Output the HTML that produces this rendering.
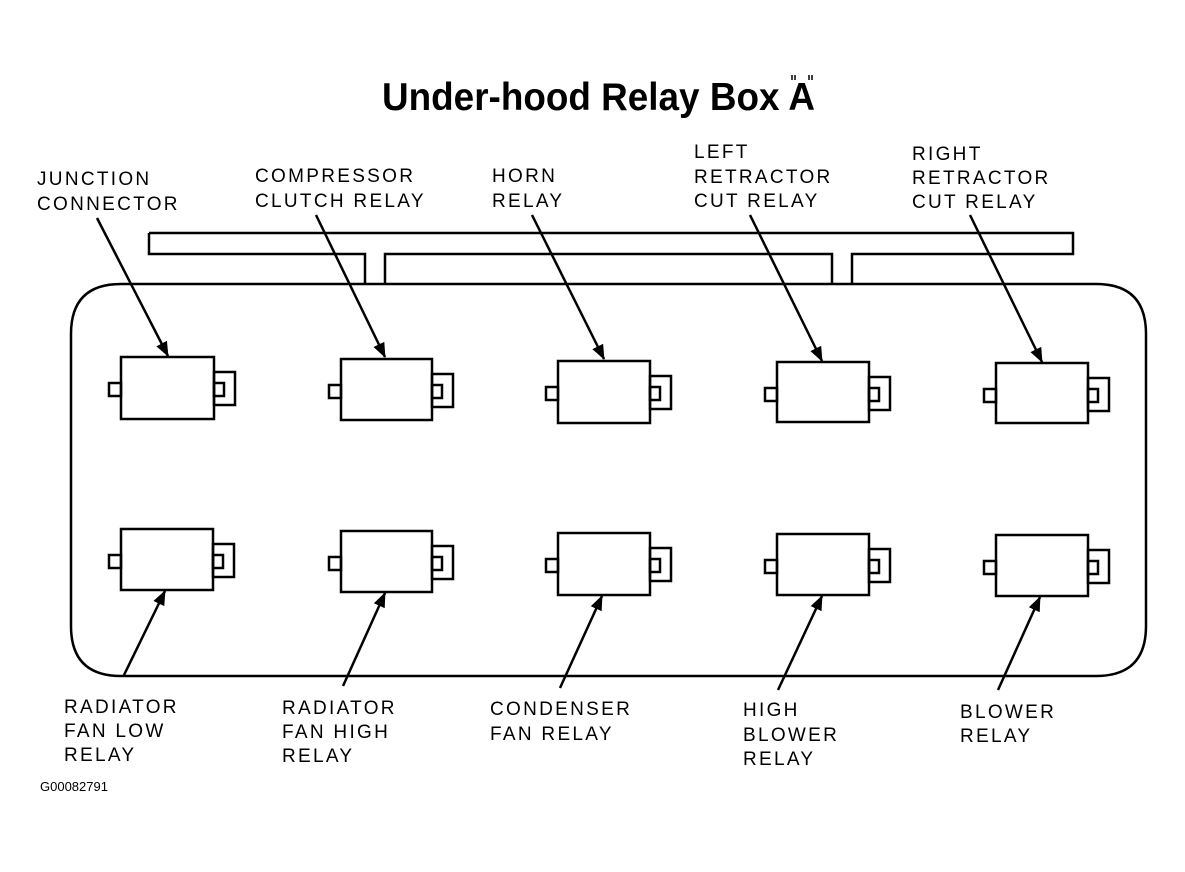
<!DOCTYPE html>
<html><head><style>
html,body{margin:0;padding:0;background:#fff;}
svg text{font-family:"Liberation Sans",sans-serif;fill:#000;}
.l{font-size:19px;letter-spacing:2.3px;}
</style></head><body>
<svg width="1185" height="867" viewBox="0 0 1185 867" xmlns="http://www.w3.org/2000/svg">
<defs><marker id="a" markerWidth="16" markerHeight="16" refX="14" refY="6" orient="auto" markerUnits="userSpaceOnUse"><path d="M0,0 L15,6 L0,12 Z" fill="#000"/></marker></defs>
<text x="382" y="110" font-size="39" font-weight="bold" textLength="433" lengthAdjust="spacingAndGlyphs">Under-hood Relay Box A</text>
<g stroke="#000" stroke-width="1.5"><line x1="792" y1="75" x2="792" y2="80"/><line x1="795" y1="75" x2="795" y2="80"/><line x1="809" y1="75" x2="809" y2="80"/><line x1="812" y1="75" x2="812" y2="80"/></g>
<g fill="none" stroke="#000" stroke-width="2.5">
<path d="M149,233 H1073 V254 H852 V284 M832,284 V254 H385 V284 M365,284 V254 H149 V233"/>
<path d="M121,284 H1096 Q1146,284 1146,334 V626 Q1146,676 1096,676 H121 Q71,676 71,626 V334 Q71,284 121,284 Z"/>
</g>
<g fill="none" stroke="#000" stroke-width="2.5">
<g transform="translate(121,357)"><rect x="0" y="0" width="93" height="62"/><rect x="-12" y="26" width="12" height="13"/><rect x="93" y="15" width="21" height="33"/><rect x="93" y="26" width="10" height="13"/></g>
<g transform="translate(341,359)"><rect x="0" y="0" width="91" height="61"/><rect x="-12" y="26" width="12" height="13"/><rect x="91" y="15" width="21" height="33"/><rect x="91" y="26" width="10" height="13"/></g>
<g transform="translate(558,361)"><rect x="0" y="0" width="92" height="62"/><rect x="-12" y="26" width="12" height="13"/><rect x="92" y="15" width="21" height="33"/><rect x="92" y="26" width="10" height="13"/></g>
<g transform="translate(777,362)"><rect x="0" y="0" width="92" height="60"/><rect x="-12" y="26" width="12" height="13"/><rect x="92" y="15" width="21" height="33"/><rect x="92" y="26" width="10" height="13"/></g>
<g transform="translate(996,363)"><rect x="0" y="0" width="92" height="60"/><rect x="-12" y="26" width="12" height="13"/><rect x="92" y="15" width="21" height="33"/><rect x="92" y="26" width="10" height="13"/></g>
<g transform="translate(121,529)"><rect x="0" y="0" width="92" height="61"/><rect x="-12" y="26" width="12" height="13"/><rect x="92" y="15" width="21" height="33"/><rect x="92" y="26" width="10" height="13"/></g>
<g transform="translate(341,531)"><rect x="0" y="0" width="91" height="61"/><rect x="-12" y="26" width="12" height="13"/><rect x="91" y="15" width="21" height="33"/><rect x="91" y="26" width="10" height="13"/></g>
<g transform="translate(558,533)"><rect x="0" y="0" width="92" height="62"/><rect x="-12" y="26" width="12" height="13"/><rect x="92" y="15" width="21" height="33"/><rect x="92" y="26" width="10" height="13"/></g>
<g transform="translate(777,534)"><rect x="0" y="0" width="92" height="61"/><rect x="-12" y="26" width="12" height="13"/><rect x="92" y="15" width="21" height="33"/><rect x="92" y="26" width="10" height="13"/></g>
<g transform="translate(996,535)"><rect x="0" y="0" width="92" height="61"/><rect x="-12" y="26" width="12" height="13"/><rect x="92" y="15" width="21" height="33"/><rect x="92" y="26" width="10" height="13"/></g>
</g>
<g stroke="#000" stroke-width="2.5" marker-end="url(#a)">
<line x1="97" y1="218" x2="168" y2="356"/>
<line x1="316" y1="215" x2="385" y2="357"/>
<line x1="532" y1="215" x2="604" y2="359"/>
<line x1="750" y1="215" x2="822" y2="361"/>
<line x1="970" y1="215" x2="1042" y2="362"/>
<line x1="124" y1="675" x2="165" y2="591"/>
<line x1="343" y1="686" x2="385" y2="593"/>
<line x1="560" y1="688" x2="602" y2="596"/>
<line x1="778" y1="690" x2="822" y2="596"/>
<line x1="998" y1="690" x2="1040" y2="597"/>
</g>
<g class="l">
<text x="37" y="185">JUNCTION</text><text x="37" y="210">CONNECTOR</text>
<text x="255" y="182">COMPRESSOR</text><text x="255" y="207">CLUTCH RELAY</text>
<text x="492" y="182">HORN</text><text x="492" y="207">RELAY</text>
<text x="694" y="158">LEFT</text><text x="694" y="183">RETRACTOR</text><text x="694" y="207">CUT RELAY</text>
<text x="912" y="160">RIGHT</text><text x="912" y="184">RETRACTOR</text><text x="912" y="208">CUT RELAY</text>
<text x="64" y="713">RADIATOR</text><text x="64" y="737">FAN LOW</text><text x="64" y="761">RELAY</text>
<text x="282" y="714">RADIATOR</text><text x="282" y="738">FAN HIGH</text><text x="282" y="762">RELAY</text>
<text x="490" y="715">CONDENSER</text><text x="490" y="740">FAN RELAY</text>
<text x="743" y="716">HIGH</text><text x="743" y="741">BLOWER</text><text x="743" y="765">RELAY</text>
<text x="960" y="718">BLOWER</text><text x="960" y="742">RELAY</text>
</g>
<text x="40" y="791" font-size="13">G00082791</text>
</svg>
</body></html>
